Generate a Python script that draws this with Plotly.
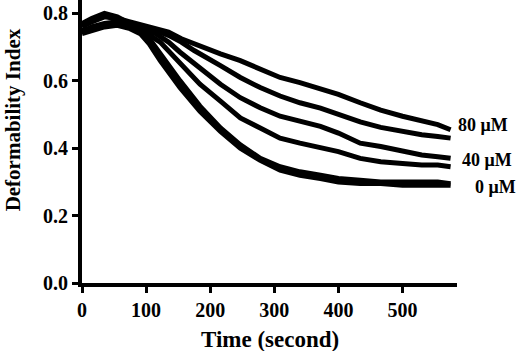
import plotly.graph_objects as go

# Time points (s) and deformability index of each curve
t_a = [0, 15, 35, 55, 75, 95, 115, 135, 155, 175, 195, 216, 247, 278, 309, 340, 372, 400, 434, 466, 500, 530, 555, 575]
v_a = [0.76, 0.775, 0.79, 0.785, 0.775, 0.765, 0.755, 0.745, 0.725, 0.71, 0.695, 0.68, 0.66, 0.635, 0.61, 0.595, 0.578, 0.56, 0.535, 0.513, 0.495, 0.48, 0.47, 0.455]

t_b = [0, 15, 35, 55, 75, 95, 115, 135, 155, 175, 195, 216, 247, 278, 309, 340, 372, 400, 434, 466, 500, 530, 555, 575]
v_b = [0.765, 0.78, 0.795, 0.78, 0.77, 0.76, 0.75, 0.735, 0.715, 0.69, 0.67, 0.645, 0.61, 0.58, 0.555, 0.535, 0.519, 0.5, 0.478, 0.462, 0.45, 0.44, 0.435, 0.43]

t_c = [0, 15, 35, 55, 75, 95, 115, 135, 153, 184, 216, 247, 278, 309, 340, 372, 400, 434, 466, 500, 530, 555, 575]
v_c = [0.745, 0.76, 0.77, 0.775, 0.765, 0.755, 0.74, 0.715, 0.685, 0.64, 0.59, 0.55, 0.52, 0.495, 0.48, 0.465, 0.445, 0.415, 0.405, 0.39, 0.38, 0.375, 0.37]

t_d = [0, 15, 35, 55, 75, 95, 110, 122, 153, 184, 216, 247, 278, 309, 340, 372, 400, 434, 466, 500, 530, 555, 575]
v_d = [0.75, 0.755, 0.765, 0.77, 0.76, 0.745, 0.73, 0.715, 0.655, 0.59, 0.54, 0.49, 0.46, 0.43, 0.415, 0.403, 0.39, 0.37, 0.36, 0.355, 0.35, 0.35, 0.345]

t_e = [0, 15, 35, 55, 75, 91, 105, 122, 153, 184, 216, 247, 278, 309, 340, 372, 400, 434, 466, 500, 530, 555, 575]
v_e = [0.74, 0.75, 0.76, 0.765, 0.755, 0.74, 0.71, 0.66, 0.58, 0.51, 0.45, 0.40, 0.364, 0.335, 0.32, 0.31, 0.30, 0.295, 0.295, 0.29, 0.29, 0.29, 0.29]

t_f = [0, 15, 35, 55, 75, 91, 105, 122, 153, 184, 216, 247, 278, 309, 340, 372, 400, 434, 466, 500, 530, 555, 575]
v_f = [0.77, 0.785, 0.8, 0.79, 0.77, 0.75, 0.725, 0.68, 0.60, 0.525, 0.46, 0.41, 0.37, 0.345, 0.33, 0.32, 0.31, 0.305, 0.30, 0.30, 0.30, 0.30, 0.295]

x_ticks = [0, 100, 200, 300, 400, 500]
y_ticks = [0.0, 0.2, 0.4, 0.6, 0.8]
curve_labels = ["80 \u03bcM", "40 \u03bcM", "0 \u03bcM"]
label_y = [0.468, 0.365, 0.285]

FONT = "Liberation Serif"

fig = go.Figure()
for tx, vy in [(t_a, v_a), (t_b, v_b), (t_c, v_c), (t_d, v_d), (t_e, v_e), (t_f, v_f)]:
    fig.add_trace(go.Scatter(x=tx, y=vy, mode="lines",
                             line=dict(color="black", width=5),
                             showlegend=False, hoverinfo="skip"))

for lab, ly, dx in zip(curve_labels, label_y, [3, 7, 20]):
    fig.add_annotation(x=578, y=ly, xref="x", yref="y", text="<b>" + lab + "</b>",
                       showarrow=False, xanchor="left", yanchor="middle",
                       xshift=dx, font=dict(family=FONT, size=18, color="black"))

fig.add_annotation(x=-0.183, y=0.576, xref="paper", yref="paper",
                   text="<b>Deformability Index</b>", textangle=-90, showarrow=False,
                   xanchor="center", yanchor="middle",
                   font=dict(family=FONT, size=21, color="black"))
fig.add_annotation(x=0.5, y=-0.2, xref="paper", yref="paper",
                   text="<b>Time (second)</b>", showarrow=False,
                   xanchor="center", yanchor="middle",
                   font=dict(family=FONT, size=23, color="black"))

axis_common = dict(showgrid=False, zeroline=False, showline=True, linecolor="black",
                   linewidth=4, ticks="outside", ticklen=6, tickwidth=3, tickcolor="black",
                   tickfont=dict(family=FONT, size=20, color="black"))
fig.update_xaxes(range=[0, 585], tickvals=x_ticks,
                 ticktext=["<b>%d</b>" % v for v in x_ticks], **axis_common)
fig.update_yaxes(range=[0, 0.84], tickvals=y_ticks,
                 ticktext=["<b>%.1f</b>" % v for v in y_ticks], **axis_common)

fig.update_layout(width=520, height=351, margin=dict(l=82, r=63, t=0, b=68),
                  paper_bgcolor="white", plot_bgcolor="white")
fig.write_html("out.html", config={"displayModeBar": False},
               post_script="document.body.style.margin='0';")
